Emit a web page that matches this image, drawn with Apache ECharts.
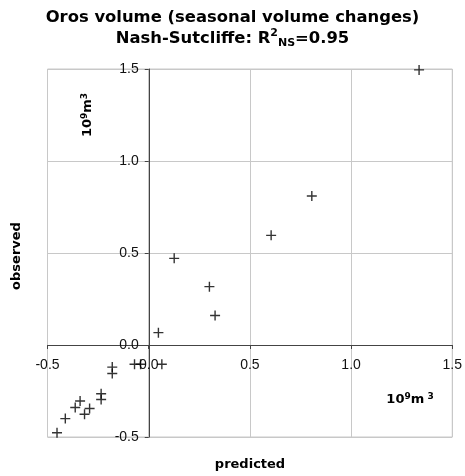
<!DOCTYPE html>
<html>
<head>
<meta charset="utf-8">
<script src="https://cdn.jsdelivr.net/npm/echarts@6/dist/echarts.min.js"></script>
<style>html,body{margin:0;padding:0;background:#fff}#c{width:465px;height:476px}</style>
</head>
<body>
<div id="c"></div>
<script>
// predicted values (x)
var predicted = [1.336, 0.806, 0.605, 0.126, 0.300, 0.328, 0.048, 0.065, -0.070, -0.040,
                 -0.180, -0.180, -0.235, -0.235, -0.339, -0.363, -0.292, -0.317, -0.412, -0.453];
// observed values (y)
var observed  = [1.495, 0.810, 0.596, 0.471, 0.317, 0.160, 0.067, -0.105, -0.105, -0.105,
                 -0.120, -0.155, -0.265, -0.296, -0.304, -0.340, -0.345, -0.376, -0.400, -0.477];
var xTicks = [-0.5, 0.0, 0.5, 1.0, 1.5];
var yTicks = [-0.5, 0.0, 0.5, 1.0, 1.5];

var pts = predicted.map(function (v, i) { return [v, observed[i]]; });
var FONT = '"Liberation Sans", Arial, sans-serif';
var BFONT = '"DejaVu Sans", Verdana, sans-serif';

var G = {left: 47.5, right: 12.5, top: 69, bottom: 39};
var W = 465, H = 476;
var gw = W - G.left - G.right, gh = H - G.top - G.bottom;
var xMin = xTicks[0], xMax = xTicks[xTicks.length - 1];
var yMin = yTicks[0], yMax = yTicks[yTicks.length - 1];
// offsets that bring the axes (with labels) to the zero lines
var xAxisOffset = -gh * (0 - yMin) / (yMax - yMin);
var yAxisOffset = -gw * (0 - xMin) / (xMax - xMin);

var chart = echarts.init(document.getElementById('c'), null, {renderer: 'canvas'});
chart.setOption({
  backgroundColor: '#fff',
  animation: false,
  title: {
    left: 'center', top: 2,
    text: '{a|Oros volume (seasonal volume changes)}\n{a|Nash-Sutcliffe: R}{sup|2}{sub|NS}{a|=0.95}',
    textStyle: {
      fontFamily: BFONT,
      rich: {
        a: {fontFamily: BFONT, fontSize: 16.4, fontWeight: 'bold', color: '#000', lineHeight: 21},
        sup: {fontFamily: BFONT, fontSize: 11, fontWeight: 'bold', color: '#000', lineHeight: 11, verticalAlign: 'top'},
        sub: {fontFamily: BFONT, fontSize: 11, fontWeight: 'bold', color: '#000', lineHeight: 11, verticalAlign: 'bottom'}
      }
    }
  },
  grid: {left: G.left, right: G.right, top: G.top, bottom: G.bottom, show: true,
         borderColor: '#c8c8c8', borderWidth: 1, backgroundColor: 'transparent'},
  xAxis: {
    type: 'value', min: xMin, max: xMax, interval: 0.5, position: 'bottom', offset: xAxisOffset,
    axisLine: {onZero: false, lineStyle: {color: '#444', width: 1}},
    axisTick: {show: true, inside: false, length: 4, lineStyle: {color: '#444'}},
    axisLabel: {fontFamily: FONT, fontSize: 14, color: '#111', margin: 13,
                formatter: function (v) { return v.toFixed(1); }},
    splitLine: {show: true, lineStyle: {color: '#c8c8c8', width: 1}}
  },
  yAxis: {
    type: 'value', min: yMin, max: yMax, interval: 0.5, position: 'left', offset: yAxisOffset,
    axisLine: {onZero: false, lineStyle: {color: '#444', width: 1}},
    axisTick: {show: true, inside: false, length: 4, lineStyle: {color: '#444'}},
    axisLabel: {fontFamily: FONT, fontSize: 14, color: '#111', margin: 10,
                formatter: function (v) { return v.toFixed(1); }},
    splitLine: {show: true, lineStyle: {color: '#c8c8c8', width: 1}}
  },
  series: [{
    type: 'scatter',
    data: pts,
    symbol: 'path://M0,4.3H10V5.7H0Z M4.3,0H5.7V10H4.3Z',
    symbolSize: 10,
    itemStyle: {color: '#000'},
    z: 5
  }],
  graphic: [
    {type: 'text', x: 17, y: 256, rotation: Math.PI / 2,
     style: {text: 'observed', font: 'bold 13px ' + BFONT, fill: '#000', align: 'center', verticalAlign: 'middle'}},
    {type: 'text', x: 250, y: 465,
     style: {text: 'predicted', font: 'bold 13px ' + BFONT, fill: '#000', align: 'center', verticalAlign: 'middle'}},
    {type: 'text', x: 88, y: 115, rotation: Math.PI / 2,
     style: {text: '{a|10}{s|9}{a|m}{s|3}', fill: '#000', align: 'center', verticalAlign: 'middle',
             rich: {a: {fontFamily: BFONT, fontSize: 13, fontWeight: 'bold', lineHeight: 15},
                    s: {fontFamily: BFONT, fontSize: 9, fontWeight: 'bold', lineHeight: 9, verticalAlign: 'top'}}}},
    {type: 'text', x: 410, y: 400,
     style: {text: '{a|10}{s|9}{a|m}{s| 3}', fill: '#000', align: 'center', verticalAlign: 'middle',
             rich: {a: {fontFamily: BFONT, fontSize: 13, fontWeight: 'bold', lineHeight: 15},
                    s: {fontFamily: BFONT, fontSize: 9, fontWeight: 'bold', lineHeight: 9, verticalAlign: 'top'}}}}
  ]
});
</script>
</body>
</html>
